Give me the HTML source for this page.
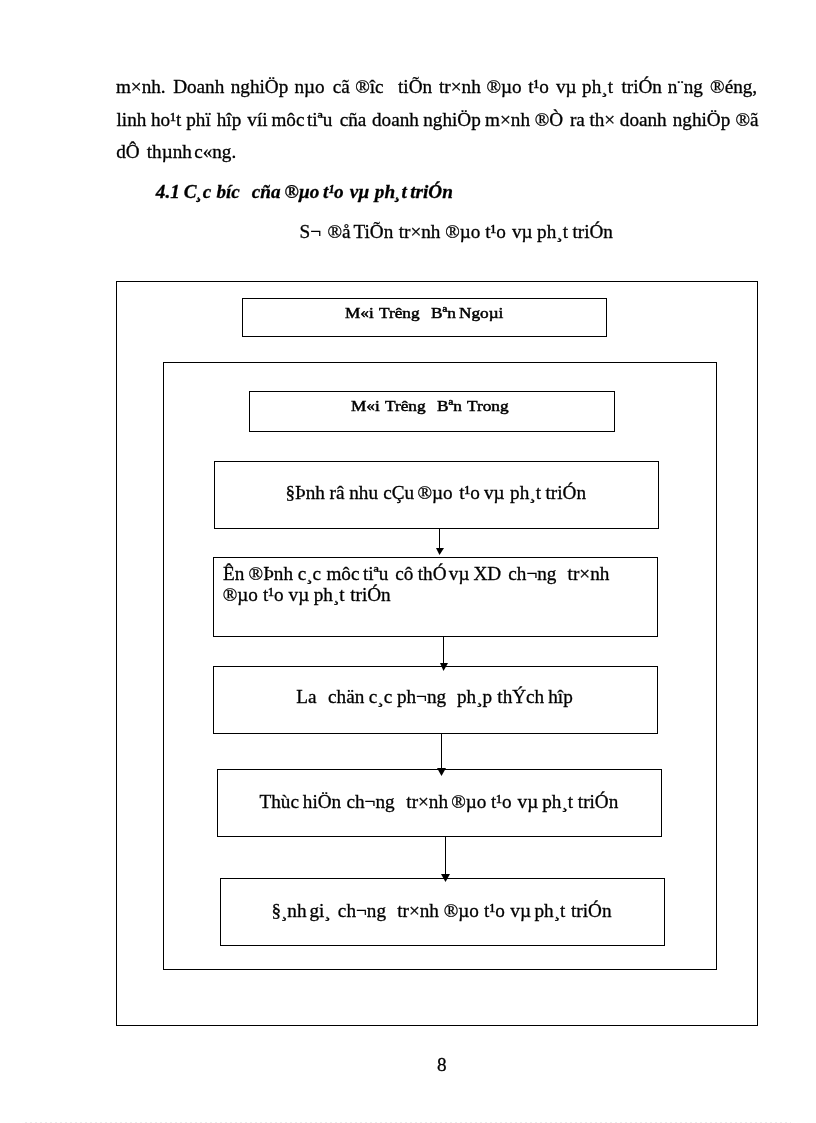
<!DOCTYPE html>
<html><head><meta charset="utf-8"><style>
html,body{margin:0;padding:0;background:#fff;}
body{width:816px;height:1123px;position:relative;overflow:hidden;font-family:"Liberation Serif",serif;color:#000;}
.t{position:absolute;white-space:pre;line-height:24px;-webkit-text-stroke:0.3px #000;}
.b{position:absolute;box-sizing:border-box;border:1px solid #000;}
.ln{position:absolute;width:1px;background:#000;}
.ah{position:absolute;}
.pg{position:absolute;left:0;top:0;width:816px;height:1123px;will-change:transform;background:#fff;}
.bw{transform-origin:0 0;-webkit-text-stroke:0.5px #000;}
</style></head><body><div class="pg">
<div class="t" style="left:115.90px;top:74.52px;font-size:19.19px;">m×nh.</div>
<div class="t" style="left:173.15px;top:74.52px;font-size:19.19px;">Doanh</div>
<div class="t" style="left:230.76px;top:74.52px;font-size:19.19px;">nghiÖp</div>
<div class="t" style="left:294.46px;top:74.52px;font-size:19.19px;">nµo</div>
<div class="t" style="left:332.77px;top:74.52px;font-size:19.19px;">cã</div>
<div class="t" style="left:355.18px;top:74.52px;font-size:19.19px;">®îc</div>
<div class="t" style="left:398.01px;top:74.52px;font-size:19.19px;">tiÕn</div>
<div class="t" style="left:439.01px;top:74.52px;font-size:19.19px;">tr×nh</div>
<div class="t" style="left:486.48px;top:74.52px;font-size:19.19px;">®µo</div>
<div class="t" style="left:528.21px;top:74.52px;font-size:19.19px;">t¹o</div>
<div class="t" style="left:555.90px;top:74.52px;font-size:19.19px;">vµ</div>
<div class="t" style="left:582.09px;top:74.52px;font-size:19.19px;">ph¸t</div>
<div class="t" style="left:621.41px;top:74.52px;font-size:19.19px;">triÓn</div>
<div class="t" style="left:667.76px;top:74.52px;font-size:19.19px;">n¨ng</div>
<div class="t" style="left:710.08px;top:74.52px;font-size:19.19px;">®éng,</div>
<div class="t" style="left:116.52px;top:108.02px;font-size:19.19px;">linh</div>
<div class="t" style="left:151.01px;top:108.02px;font-size:19.19px;">ho¹t</div>
<div class="t" style="left:186.19px;top:108.02px;font-size:19.19px;">phï</div>
<div class="t" style="left:216.71px;top:108.02px;font-size:19.19px;">hîp</div>
<div class="t" style="left:247.30px;top:108.02px;font-size:19.19px;">víi</div>
<div class="t" style="left:271.40px;top:108.02px;font-size:19.19px;">môc</div>
<div class="t" style="left:306.91px;top:108.02px;font-size:19.19px;">tiªu</div>
<div class="t" style="left:339.67px;top:108.02px;font-size:19.19px;">cña</div>
<div class="t" style="left:372.01px;top:108.02px;font-size:19.19px;">doanh</div>
<div class="t" style="left:423.26px;top:108.02px;font-size:19.19px;">nghiÖp</div>
<div class="t" style="left:485.10px;top:108.02px;font-size:19.19px;">m×nh</div>
<div class="t" style="left:534.68px;top:108.02px;font-size:19.19px;">®Ò</div>
<div class="t" style="left:569.92px;top:108.02px;font-size:19.19px;">ra</div>
<div class="t" style="left:589.41px;top:108.02px;font-size:19.19px;">th×</div>
<div class="t" style="left:619.81px;top:108.02px;font-size:19.19px;">doanh</div>
<div class="t" style="left:672.76px;top:108.02px;font-size:19.19px;">nghiÖp</div>
<div class="t" style="left:735.48px;top:108.02px;font-size:19.19px;">®ã</div>
<div class="t" style="left:116.21px;top:139.82px;font-size:19.19px;">dÔ</div>
<div class="t" style="left:146.71px;top:139.82px;font-size:19.19px;">thµnh</div>
<div class="t" style="left:194.17px;top:139.82px;font-size:19.19px;">c«ng.</div>
<div class="t" style="left:155.80px;top:179.72px;font-size:19.19px;"><b><i>4.1</i></b></div>
<div class="t" style="left:183.64px;top:179.72px;font-size:19.19px;"><b><i>C¸c</i></b></div>
<div class="t" style="left:216.45px;top:179.72px;font-size:19.19px;"><b><i>bíc</i></b></div>
<div class="t" style="left:251.72px;top:179.72px;font-size:19.19px;"><b><i>cña</i></b></div>
<div class="t" style="left:284.48px;top:179.72px;font-size:19.19px;"><b><i>®µo</i></b></div>
<div class="t" style="left:322.92px;top:179.72px;font-size:19.19px;"><b><i>t¹o</i></b></div>
<div class="t" style="left:349.82px;top:179.72px;font-size:19.19px;"><b><i>vµ</i></b></div>
<div class="t" style="left:374.87px;top:179.72px;font-size:19.19px;"><b><i>ph¸t</i></b></div>
<div class="t" style="left:410.22px;top:179.72px;font-size:19.19px;"><b><i>triÓn</i></b></div>
<div class="t" style="left:299.62px;top:219.52px;font-size:19.19px;">S¬</div>
<div class="t" style="left:327.48px;top:219.52px;font-size:19.19px;">®å</div>
<div class="t" style="left:353.45px;top:219.52px;font-size:19.19px;">TiÕn</div>
<div class="t" style="left:398.71px;top:219.52px;font-size:19.19px;">tr×nh</div>
<div class="t" style="left:445.18px;top:219.52px;font-size:19.19px;">®µo</div>
<div class="t" style="left:485.21px;top:219.52px;font-size:19.19px;">t¹o</div>
<div class="t" style="left:511.90px;top:219.52px;font-size:19.19px;">vµ</div>
<div class="t" style="left:537.09px;top:219.52px;font-size:19.19px;">ph¸t</div>
<div class="t" style="left:572.41px;top:219.52px;font-size:19.19px;">triÓn</div>
<div class="b" style="left:116px;top:281px;width:642px;height:745px"></div>
<div class="b" style="left:163px;top:362px;width:554px;height:608px"></div>
<div class="b" style="left:242px;top:298px;width:365px;height:39px"></div>
<div class="b" style="left:249px;top:391px;width:366px;height:41px"></div>
<div class="b" style="left:214px;top:461px;width:445px;height:68px"></div>
<div class="b" style="left:213px;top:557px;width:445px;height:80px"></div>
<div class="b" style="left:213px;top:666px;width:445px;height:68px"></div>
<div class="b" style="left:217px;top:769px;width:445px;height:68px"></div>
<div class="b" style="left:220px;top:878px;width:445px;height:68px"></div>
<div class="ln" style="left:439px;top:528px;height:21px"></div>
<svg class="ah" style="left:436px;top:548px" width="8" height="7"><polygon points="0,0 8,0 3.5,7" fill="#000"/></svg>
<div class="ln" style="left:443px;top:636px;height:28px"></div>
<svg class="ah" style="left:440px;top:663px" width="8" height="8"><polygon points="0,0 8,0 3.5,8" fill="#000"/></svg>
<div class="ln" style="left:441px;top:733px;height:36px"></div>
<svg class="ah" style="left:437px;top:768px" width="9" height="8"><polygon points="0,0 9,0 4.5,8" fill="#000"/></svg>
<div class="ln" style="left:445px;top:836px;height:39px"></div>
<svg class="ah" style="left:441px;top:874px" width="9" height="8"><polygon points="0,0 9,0 4.5,8" fill="#000"/></svg>
<div class="t bw" style="left:344.80px;top:300.50px;font-size:15.4px;transform:scaleX(1.12)">M«i</div>
<div class="t bw" style="left:378.79px;top:300.50px;font-size:15.4px;transform:scaleX(1.12)">Tr­êng</div>
<div class="t bw" style="left:430.50px;top:300.50px;font-size:15.4px;transform:scaleX(1.12)">B­ªn</div>
<div class="t bw" style="left:458.60px;top:300.50px;font-size:15.4px;transform:scaleX(1.12)">Ngoµi</div>
<div class="t bw" style="left:350.90px;top:394.00px;font-size:15.4px;transform:scaleX(1.12)">M«i</div>
<div class="t bw" style="left:385.29px;top:394.00px;font-size:15.4px;transform:scaleX(1.12)">Tr­êng</div>
<div class="t bw" style="left:436.60px;top:394.00px;font-size:15.4px;transform:scaleX(1.12)">B­ªn</div>
<div class="t bw" style="left:466.59px;top:394.00px;font-size:15.4px;transform:scaleX(1.12)">Trong</div>
<div class="t" style="left:285.38px;top:481.02px;font-size:19.19px;">§Þnh</div>
<div class="t" style="left:329.62px;top:481.02px;font-size:19.19px;">râ</div>
<div class="t" style="left:349.26px;top:481.02px;font-size:19.19px;">nhu</div>
<div class="t" style="left:383.27px;top:481.02px;font-size:19.19px;">cÇu</div>
<div class="t" style="left:417.48px;top:481.02px;font-size:19.19px;">®µo</div>
<div class="t" style="left:459.21px;top:481.02px;font-size:19.19px;">t¹o</div>
<div class="t" style="left:483.90px;top:481.02px;font-size:19.19px;">vµ</div>
<div class="t" style="left:510.09px;top:481.02px;font-size:19.19px;">ph¸t</div>
<div class="t" style="left:545.51px;top:481.02px;font-size:19.19px;">triÓn</div>
<div class="t" style="left:222.95px;top:562.32px;font-size:19.19px;">Ên</div>
<div class="t" style="left:248.58px;top:562.32px;font-size:19.19px;">®Þnh</div>
<div class="t" style="left:297.67px;top:562.32px;font-size:19.19px;">c¸c</div>
<div class="t" style="left:326.40px;top:562.32px;font-size:19.19px;">môc</div>
<div class="t" style="left:362.91px;top:562.32px;font-size:19.19px;">tiªu</div>
<div class="t" style="left:395.17px;top:562.32px;font-size:19.19px;">cô</div>
<div class="t" style="left:417.71px;top:562.32px;font-size:19.19px;">thÓ</div>
<div class="t" style="left:448.80px;top:562.32px;font-size:19.19px;">vµ</div>
<div class="t" style="left:473.38px;top:562.32px;font-size:19.19px;">XD</div>
<div class="t" style="left:508.27px;top:562.32px;font-size:19.19px;">ch¬ng</div>
<div class="t" style="left:567.61px;top:562.32px;font-size:19.19px;">tr×nh</div>
<div class="t" style="left:222.68px;top:583.12px;font-size:19.19px;">®µo</div>
<div class="t" style="left:263.01px;top:583.12px;font-size:19.19px;">t¹o</div>
<div class="t" style="left:288.60px;top:583.12px;font-size:19.19px;">vµ</div>
<div class="t" style="left:313.69px;top:583.12px;font-size:19.19px;">ph¸t</div>
<div class="t" style="left:350.21px;top:583.12px;font-size:19.19px;">triÓn</div>
<div class="t" style="left:296.35px;top:685.42px;font-size:19.19px;">La</div>
<div class="t" style="left:328.07px;top:685.42px;font-size:19.19px;">chän</div>
<div class="t" style="left:368.77px;top:685.42px;font-size:19.19px;">c¸c</div>
<div class="t" style="left:396.89px;top:685.42px;font-size:19.19px;">ph¬ng</div>
<div class="t" style="left:456.99px;top:685.42px;font-size:19.19px;">ph¸p</div>
<div class="t" style="left:497.31px;top:685.42px;font-size:19.19px;">thÝch</div>
<div class="t" style="left:548.21px;top:685.42px;font-size:19.19px;">hîp</div>
<div class="t" style="left:259.55px;top:789.52px;font-size:19.19px;">Thùc</div>
<div class="t" style="left:302.81px;top:789.52px;font-size:19.19px;">hiÖn</div>
<div class="t" style="left:346.47px;top:789.52px;font-size:19.19px;">ch¬ng</div>
<div class="t" style="left:406.31px;top:789.52px;font-size:19.19px;">tr×nh</div>
<div class="t" style="left:451.18px;top:789.52px;font-size:19.19px;">®µo</div>
<div class="t" style="left:491.01px;top:789.52px;font-size:19.19px;">t¹o</div>
<div class="t" style="left:517.60px;top:789.52px;font-size:19.19px;">vµ</div>
<div class="t" style="left:542.19px;top:789.52px;font-size:19.19px;">ph¸t</div>
<div class="t" style="left:577.81px;top:789.52px;font-size:19.19px;">triÓn</div>
<div class="t" style="left:271.38px;top:898.52px;font-size:19.19px;">§¸nh</div>
<div class="t" style="left:309.38px;top:898.52px;font-size:19.19px;">gi¸</div>
<div class="t" style="left:337.87px;top:898.52px;font-size:19.19px;">ch¬ng</div>
<div class="t" style="left:397.21px;top:898.52px;font-size:19.19px;">tr×nh</div>
<div class="t" style="left:443.68px;top:898.52px;font-size:19.19px;">®µo</div>
<div class="t" style="left:484.11px;top:898.52px;font-size:19.19px;">t¹o</div>
<div class="t" style="left:510.30px;top:898.52px;font-size:19.19px;">vµ</div>
<div class="t" style="left:534.49px;top:898.52px;font-size:19.19px;">ph¸t</div>
<div class="t" style="left:571.01px;top:898.52px;font-size:19.19px;">triÓn</div>
<div class="t" style="left:436.97px;top:1052.52px;font-size:19.19px;">8</div>
<div style="position:absolute;left:25px;top:1122px;width:766px;height:1px;background:repeating-linear-gradient(90deg,#ececec 0 2px,transparent 2px 5px)"></div>
</div></body></html>
